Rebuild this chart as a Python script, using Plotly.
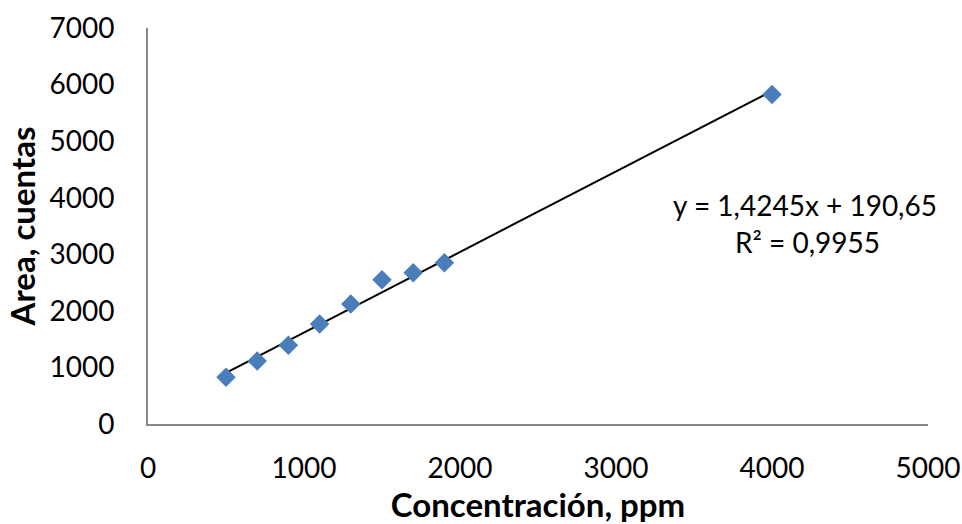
import plotly.graph_objects as go

# Calibration data: concentration (ppm) vs. peak area (counts)
concentracion = [500, 700, 900, 1100, 1300, 1500, 1700, 1900, 4000]
area = [825, 1113, 1390, 1767, 2120, 2550, 2673, 2850, 5825]

# Linear fit reported on the chart
pendiente = 1.4245
intercepto = 190.65
r2 = 0.9955

x_fit = [min(concentracion), max(concentracion)]
y_fit = [pendiente * v + intercepto for v in x_fit]

font_family = "Lato, 'Open Sans', sans-serif"

fig = go.Figure()
fig.add_trace(go.Scatter(
    x=x_fit, y=y_fit, mode="lines",
    line=dict(color="black", width=2),
    showlegend=False, hoverinfo="skip",
))
fig.add_trace(go.Scatter(
    x=concentracion, y=area, mode="markers",
    marker=dict(symbol="diamond", size=15, color="#4A7EBB", line=dict(width=0)),
    showlegend=False,
))

eq_text = "y = {}x + {}".format(str(pendiente).replace(".", ","), str(intercepto).replace(".", ","))
r2_text = "R² = {}".format(str(r2).replace(".", ","))

fig.add_annotation(x=4210, y=3870, text=eq_text, showarrow=False,
                   font=dict(family=font_family, size=28, color="black"))
fig.add_annotation(x=4225, y=3210, text=r2_text, showarrow=False,
                   font=dict(family=font_family, size=28, color="black"))

fig.update_layout(
    width=962, height=524,
    margin=dict(l=148, r=34, t=28, b=100),
    plot_bgcolor="white", paper_bgcolor="white",
    font=dict(family=font_family, size=28, color="black"),
    xaxis=dict(
        range=[0, 5000], tickvals=[0, 1000, 2000, 3000, 4000, 5000],
        showgrid=False, zeroline=False, automargin=False,
        showline=True, linecolor="#868686", linewidth=2,
        ticks="outside", ticklen=18, tickcolor="rgba(0,0,0,0)",
        title=dict(text="<b>Concentración, ppm</b>", font=dict(size=33), standoff=16),
    ),
    yaxis=dict(
        range=[0, 7000], tickvals=list(range(0, 8000, 1000)),
        showgrid=False, zeroline=False, automargin=False,
        showline=True, linecolor="#868686", linewidth=2,
        ticks="outside", ticklen=26, tickcolor="rgba(0,0,0,0)",
        title=dict(text="<b>Area, cuentas</b>", font=dict(size=33), standoff=4),
    ),
)

fig.write_html("out.html")
